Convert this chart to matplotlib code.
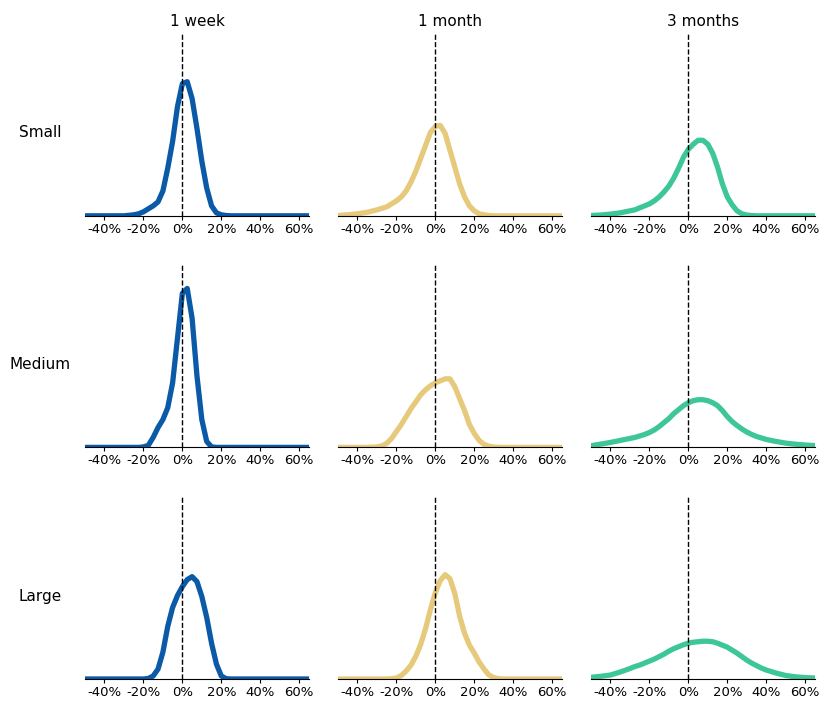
import numpy as np
import matplotlib.pyplot as plt
from matplotlib.ticker import FuncFormatter

# Distribuciones de retornos por tamaño y horizonte (densidad, escala relativa)
filas = ["Small", "Medium", "Large"]
columnas = ["1 week", "1 month", "3 months"]
colores = ["#0a5aa8", "#e6c97a", "#3ec796"]

x = [-50, -45, -40, -35, -30, -27.5, -25, -22.5, -20, -17.5, -15, -12.5, -10, -7.5, -5, -2.5,
     0, 2.5, 5, 7.5, 10, 12.5, 15, 17.5, 20, 22.5, 25, 27.5, 30, 32.5, 35, 37.5, 40,
     45, 50, 55, 60, 65]

small_1w = [0, 0, 0, 0, 0, 0.5, 1, 2, 4, 7, 10, 14, 25, 48, 75, 110,
            133, 135, 118, 88, 55, 28, 10, 3, 1, 0.3, 0, 0, 0, 0, 0, 0, 0,
            0, 0, 0, 0, 0]
small_1m = [0.3, 1, 2, 3.5, 6, 7.5, 9, 12, 15, 19, 25, 34, 45, 58, 71, 84,
            90, 91, 83, 66, 49, 32, 19, 10, 5, 2, 1, 0.3, 0, 0, 0, 0, 0,
            0, 0, 0, 0, 0]
small_3m = [0.3, 0.8, 1.7, 3, 5, 6, 8, 10, 12, 15, 19, 24, 30, 38, 48, 59,
            67, 72, 76, 76, 72, 63, 49, 32, 19, 11, 5, 2, 0.8, 0.3, 0, 0, 0,
            0, 0, 0, 0, 0]

medium_1w = [0, 0, 0, 0, 0, 0, 0, 0, 0.5, 2, 10, 20, 28, 40, 65, 110,
             155, 160, 130, 72, 28, 6, 0.5, 0, 0, 0, 0, 0, 0, 0, 0, 0, 0,
             0, 0, 0, 0, 0]
medium_1m = [0, 0, 0, 0, 0.5, 1.5, 4, 9, 16, 23, 31, 39, 46, 53, 58, 62,
             65, 67, 69, 69, 61, 49, 37, 23, 14, 7, 3, 1.2, 0.4, 0, 0, 0, 0,
             0, 0, 0, 0, 0]
medium_3m = [1.7, 3.3, 5, 7, 9, 10, 11.5, 13, 15, 17.5, 21, 25, 29, 34, 38, 42,
             45, 47, 48, 48, 47, 45, 42, 37, 31, 26, 22, 18.5, 15.5, 13, 11, 9.5, 8,
             6, 4.3, 3.2, 2.4, 1.8]

large_1w = [0, 0, 0, 0, 0, 0, 0, 0, 0, 0.5, 3, 10, 27, 53, 72, 84,
            93, 100, 103, 98, 83, 62, 36, 15, 3, 0.3, 0, 0, 0, 0, 0, 0, 0,
            0, 0, 0, 0, 0]
large_1m = [0, 0, 0, 0, 0, 0, 0, 0.3, 1, 3.5, 8, 14, 23, 35, 51, 70,
            87, 99, 105, 101, 86, 63, 46, 34, 26, 17, 10, 4, 1.5, 0.3, 0, 0, 0,
            0, 0, 0, 0, 0]
large_3m = [1.7, 2.7, 4, 7, 10.5, 12.5, 14, 16, 18, 20, 22.5, 25, 28, 30.5, 32.5, 34.5,
            36, 37, 37.5, 38, 38, 37.5, 36, 34, 32, 29, 26, 22.5, 19, 16, 13.5, 11, 9,
            6, 3.5, 2.2, 1.4, 1]

datos = [[small_1w, small_1m, small_3m],
         [medium_1w, medium_1m, medium_3m],
         [large_1w, large_1m, large_3m]]

fig, axs = plt.subplots(3, 3, figsize=(8.19, 7.05), dpi=100)
fig.subplots_adjust(left=0.1038, right=0.995, top=0.9546, bottom=0.0369,
                    wspace=0.13, hspace=0.26)

pct = FuncFormatter(lambda v, p: "%d%%" % v)

for i in range(3):
    for j in range(3):
        ax = axs[i, j]
        ax.plot(x, datos[i][j], color=colores[j], lw=3.8,
                solid_capstyle="round", solid_joinstyle="round")
        ax.axvline(0, color="black", ls="--", lw=1)
        ax.set_xlim(-50, 65)
        ax.set_ylim(0, 185)
        ax.set_xticks([-40, -20, 0, 20, 40, 60])
        ax.xaxis.set_major_formatter(pct)
        ax.tick_params(axis="x", labelsize=9.5, length=3, pad=2)
        ax.set_yticks([])
        for s in ["left", "right", "top"]:
            ax.spines[s].set_visible(False)
        if i == 0:
            ax.set_title(columnas[j], fontsize=11, pad=4)
    # etiqueta de fila, un poco por debajo del centro del eje
    pos = axs[i, 0].get_position()
    fig.text(40 / 819, (pos.y0 + pos.y1) / 2 - 9 / 705, filas[i],
             fontsize=11, ha="center", va="center")

plt.savefig("out.png")
